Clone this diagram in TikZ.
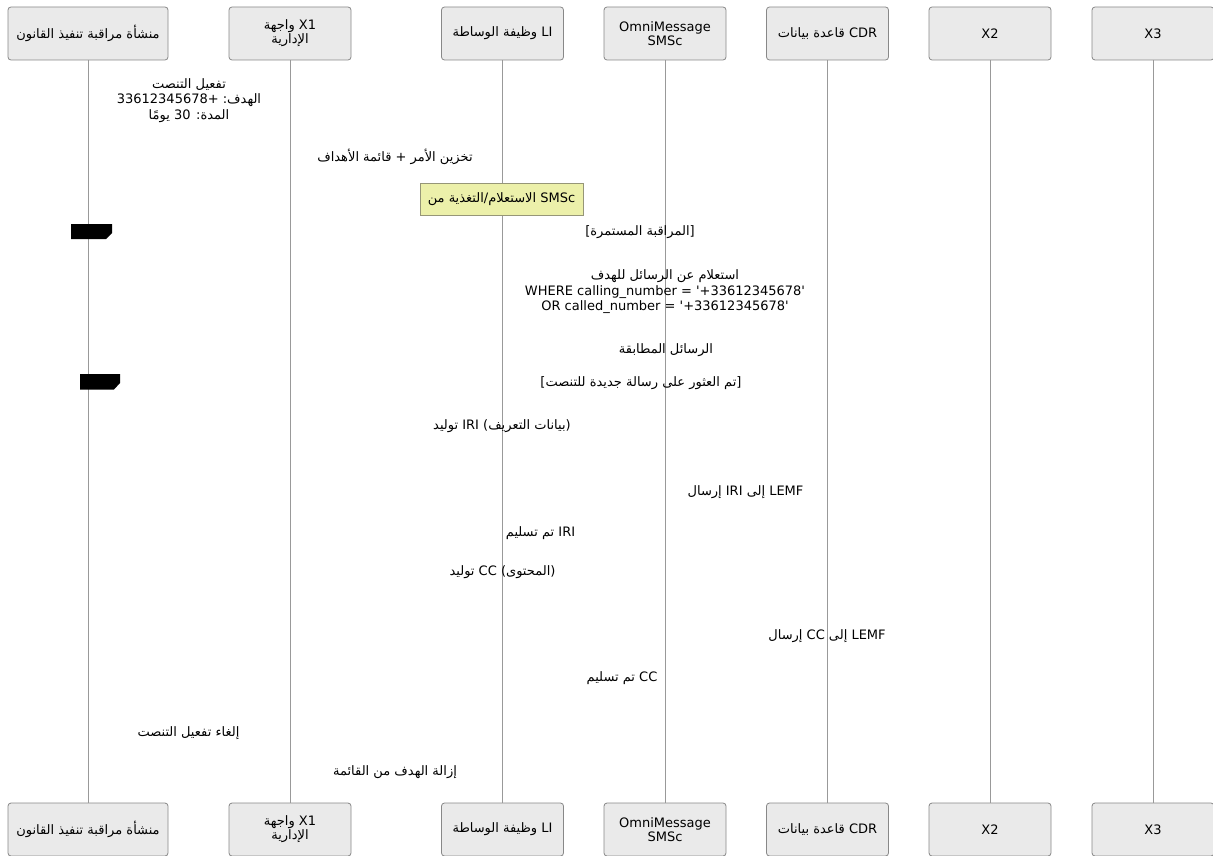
\documentclass[tikz,border=0pt]{standalone}
\usepackage{fontspec}
\setmainfont{DejaVu Sans}[Ligatures=TeXOff]
\newfontfamily\arabicfont[Script=Arabic]{DejaVu Sans}
\TeXXeTstate=1
\newcommand{\ar}[1]{{\arabicfont\beginR #1\endR}}
\definecolor{actbg}{HTML}{EAEAEA}
\definecolor{actbd}{HTML}{888888}
\definecolor{lifeln}{HTML}{999999}
\definecolor{notebg}{RGB}{236,240,170}
\definecolor{notebd}{RGB}{150,150,120}
\tikzset{
  actor/.style={draw=actbd, fill=actbg, rounded corners=2.25pt, line width=0.6pt,
    minimum width=91.5pt, minimum height=39.75pt, inner sep=0pt, align=center,
    font=\fontsize{9.75}{10.6}\selectfont},
  wideactor/.style={actor, minimum width=120pt},
  msg/.style={inner sep=0pt, align=center, font=\fontsize{9.75}{11.6}\selectfont},
  notebox/.style={draw=notebd, fill=notebg, line width=0.6pt, minimum width=122.25pt,
    minimum height=24pt, inner sep=0pt, font=\fontsize{9.75}{11.6}\selectfont},
  lifeline/.style={draw=lifeln, line width=0.75pt},
  looptag/.style={fill=black, draw=none}
}
\begin{document}
\begin{tikzpicture}[x=0.75pt, y=-0.75pt]
\useasboundingbox (0,0) rectangle (1213,856);
\fill[white] (0,0) rectangle (1213,856);

% top actors
\node[wideactor] (t1) at (88,33.5) {\ar{منشأة مراقبة تنفيذ القانون}};
\node[actor] (t2) at (290,33.5) {\ar{واجهة} X1\\\ar{الإدارية}};
\node[actor] (t3) at (502.5,33.5) {\ar{وظيفة الوساطة} LI};
\node[actor] (t4) at (665,33.5) {OmniMessage\\SMSc};
\node[actor] (t5) at (827.5,33.5) {\ar{قاعدة بيانات} CDR};
\node[actor] (t6) at (990,33.5) {X2};
\node[actor] (t7) at (1153,33.5) {X3};

% bottom actors
\node[wideactor] (b1) at (88,829.5) {\ar{منشأة مراقبة تنفيذ القانون}};
\node[actor] (b2) at (290,829.5) {\ar{واجهة} X1\\\ar{الإدارية}};
\node[actor] (b3) at (502.5,829.5) {\ar{وظيفة الوساطة} LI};
\node[actor] (b4) at (665,829.5) {OmniMessage\\SMSc};
\node[actor] (b5) at (827.5,829.5) {\ar{قاعدة بيانات} CDR};
\node[actor] (b6) at (990,829.5) {X2};
\node[actor] (b7) at (1153,829.5) {X3};

% lifelines
\foreach \i in {1,...,7} {
  \draw[lifeline] (t\i.south) -- (b\i.north);
}

% note
\node[notebox] (note1) at (501.5,199) {\ar{الاستعلام/التغذية من} SMSc};

% loop tags
\fill[looptag] (71,224) -- (112,224) -- (112,233) -- (106,239) -- (71,239) -- cycle;
\fill[looptag] (80,374) -- (120,374) -- (120,383) -- (114,389.5) -- (80,389.5) -- cycle;

% message labels
\node[msg] (m1) at (189,100.5) {\ar{تفعيل التنصت}\\33612345678+ \ar{الهدف:}\\\ar{المدة: 30 يومًا}};
\node[msg] (m2) at (395,157) {\ar{تخزين الأمر + قائمة الأهداف}};
\node[msg] (l1) at (640,232) {[\ar{المراقبة المستمرة}]};
\node[msg] (m3) at (665,292) {\ar{استعلام عن الرسائل للهدف}\\WHERE calling\_number = '+33612345678'\\OR called\_number = '+33612345678'};
\node[msg] (m4) at (666,350) {\ar{الرسائل المطابقة}};
\node[msg] (l2) at (641,383) {[\ar{تم العثور على رسالة جديدة للتنصت}]};
\node[msg] (m5) at (502,426) {\ar{توليد} IRI (\ar{بيانات التعريف})};
\node[msg] (m6) at (745.5,492) {\ar{إرسال} IRI \ar{إلى} LEMF};
\node[msg] (m7) at (540.5,533) {\ar{تم تسليم} IRI};
\node[msg] (m8) at (502.5,572) {\ar{توليد} CC (\ar{المحتوى})};
\node[msg] (m9) at (827,636) {\ar{إرسال} CC \ar{إلى} LEMF};
\node[msg] (m10) at (622,678) {\ar{تم تسليم} CC};
\node[msg] (m11) at (188.5,733) {\ar{إلغاء تفعيل التنصت}};
\node[msg] (m12) at (395,772) {\ar{إزالة الهدف من القائمة}};
\end{tikzpicture}
\end{document}
